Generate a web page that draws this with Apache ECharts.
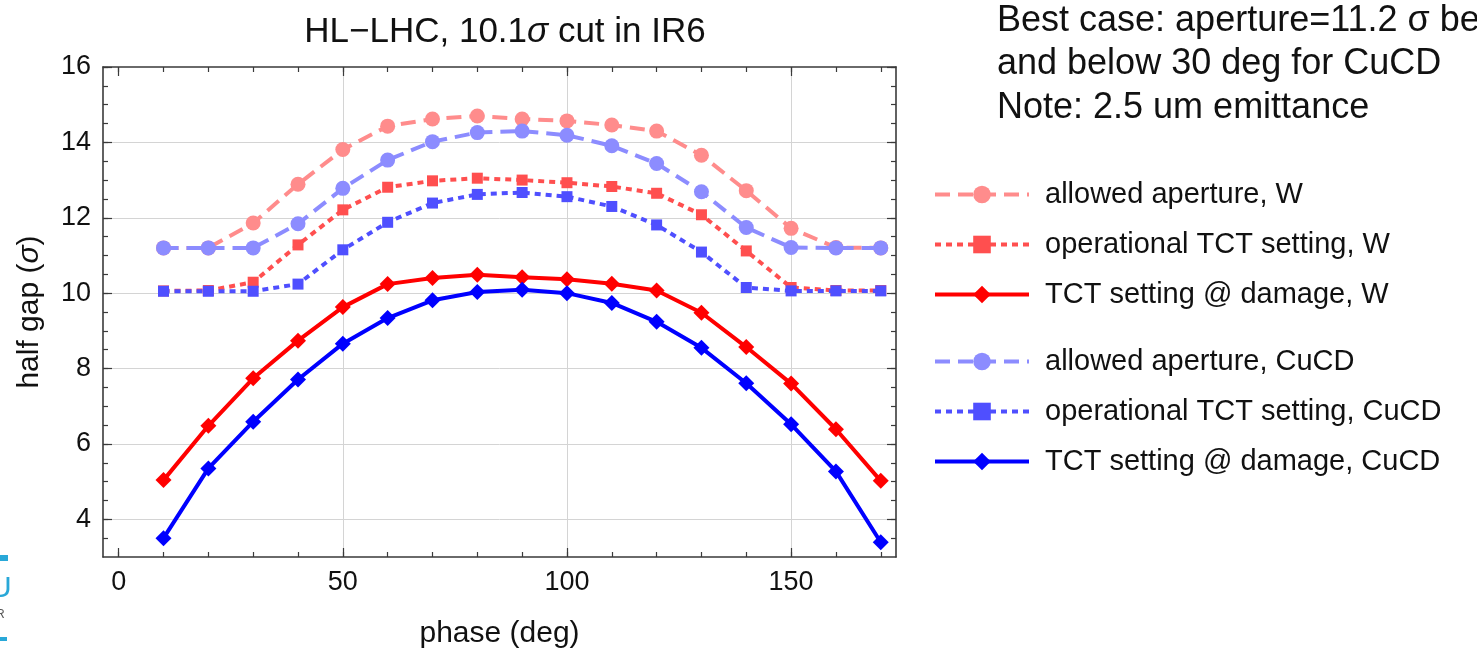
<!DOCTYPE html>
<html>
<head>
<meta charset="utf-8">
<script src="https://cdn.jsdelivr.net/npm/echarts@6/dist/echarts.min.js"></script>
<style>
html,body{margin:0;padding:0;background:#fff;}
#c{width:1477px;height:654px;}
</style>
</head>
<body>
<div id="c"></div>
<script>
// ---- data ----
var phase = [10,20,30,40,50,60,70,80,90,100,110,120,130,140,150,160,170];
var apertureW    = [11.2,11.2,11.86,12.89,13.81,14.43,14.62,14.70,14.62,14.57,14.46,14.30,13.66,12.72,11.72,11.21,11.2];
var operW        = [10.06,10.07,10.29,11.28,12.21,12.81,12.98,13.05,13.00,12.93,12.83,12.65,12.08,11.12,10.15,10.07,10.07];
var damageW      = [5.04,6.48,7.74,8.74,9.63,10.24,10.40,10.49,10.42,10.37,10.25,10.07,9.48,8.57,7.60,6.39,5.02];
var apertureCu   = [11.2,11.2,11.2,11.84,12.78,13.53,14.02,14.26,14.30,14.19,13.91,13.44,12.69,11.74,11.21,11.2,11.2];
var operCu       = [10.05,10.05,10.05,10.24,11.15,11.88,12.39,12.62,12.67,12.56,12.30,11.81,11.09,10.15,10.06,10.06,10.06];
var damageCu     = [3.50,5.35,6.59,7.71,8.66,9.34,9.81,10.03,10.09,10.00,9.74,9.24,8.55,7.61,6.52,5.27,3.39];

var seriesNames = ['allowed aperture, W','operational TCT setting, W','TCT setting @ damage, W',
                   'allowed aperture, CuCD','operational TCT setting, CuCD','TCT setting @ damage, CuCD'];

var xMajor = [0,50,100,150];
var xMinor = [0,10,20,30,40,50,60,70,80,90,100,110,120,130,140,150,160,170];
var xGrid  = [50,100,150];
var yMajor = [4,6,8,10,12,14,16];
var yMinor = [3.5,4,4.5,5,5.5,6,6.5,7,7.5,8,8.5,9,9.5,10,10.5,11,11.5,12,12.5,13,13.5,14,14.5,15,15.5,16];
var yGrid  = [4,6,8,10,12,14];

var titleText = 'HL\u2212LHC, 10.1{i|\u03c3} cut in IR6';
var xName = 'phase (deg)';
var yName = 'half gap ({i|\u03c3})';
var noteLines = ['Best case: aperture=11.2 \u03c3 be','and below 30 deg for CuCD','Note: 2.5 um emittance'];

// ---- chart ----
var FONT = 'Liberation Sans, Arial, Helvetica, sans-serif';
var X_MIN = -3.5, X_MAX = 173.4, Y_MIN = 3, Y_MAX = 16;
var frame = {color:'#3a3a3a', width:1.6};

function pairs(ys){ return phase.map(function(x,i){return [x, ys[i]];}); }

function merge(a, opts){
  for (var k in opts){
    var v = opts[k];
    if (v && typeof v === 'object' && !Array.isArray(v)) a[k] = Object.assign({}, a[k] || {}, v);
    else a[k] = v;
  }
  return a;
}
function ax(kind, pos, ticks, len, opts){
  var a = {
    type:'value', position:pos, gridIndex:0,
    min: kind === 'x' ? X_MIN : Y_MIN,
    max: kind === 'x' ? X_MAX : Y_MAX,
    axisLine:{show:false, onZero:false, lineStyle:frame},
    axisTick:{show:true, inside:true, length:len, customValues:ticks, lineStyle:{color:'#3a3a3a', width:1.2}},
    axisLabel:{show:false},
    splitLine:{show:false}
  };
  return merge(a, opts || {});
}

var labelStyle = {show:true, fontSize:27, color:'#111', margin:12, fontFamily:FONT};
var gridLine = {show:true, lineStyle:{color:'#d4d4d4', width:1}};

var xAxes = [
  ax('x','bottom', xMajor, 9, {
    axisLine:{show:true},
    axisLabel:Object.assign({customValues:xMajor}, labelStyle),
    name:xName, nameLocation:'middle', nameGap:62,
    nameTextStyle:{fontSize:30, color:'#111', fontFamily:FONT}
  }),
  ax('x','bottom', xMinor, 5),
  ax('x','top', xMajor, 9, {axisLine:{show:true}}),
  ax('x','top', xMinor, 5),
  ax('x','bottom', xGrid, 0, {axisTick:{show:false}, splitLine:gridLine})
];
var yAxes = [
  ax('y','left', yMajor, 9, {
    axisLine:{show:true},
    axisLabel:Object.assign({customValues:yMajor}, labelStyle),
    name:yName, nameLocation:'middle', nameGap:58, nameRotate:90,
    nameTextStyle:{fontSize:30, color:'#111', fontFamily:FONT,
                   rich:{i:{fontStyle:'italic', fontSize:30, color:'#111', fontFamily:FONT}}}
  }),
  ax('y','left', yMinor, 5),
  ax('y','right', yMajor, 9, {axisLine:{show:true}}),
  ax('y','right', yMinor, 5),
  ax('y','left', yGrid, 0, {axisTick:{show:false}, splitLine:gridLine})
];

var styles = [
  {color:'#ff8c8c', type:[15,8], symbol:'circle', size:15},
  {color:'#ff4f4f', type:[6,5],  symbol:'rect',   size:11},
  {color:'#ff0000', type:'solid', symbol:'diamond', size:16},
  {color:'#8c8cff', type:[15,8], symbol:'circle', size:15},
  {color:'#4f4fff', type:[6,5],  symbol:'rect',   size:11},
  {color:'#0000ff', type:'solid', symbol:'diamond', size:16}
];
var dataSets = [apertureW, operW, damageW, apertureCu, operCu, damageCu];

var series = dataSets.map(function(d, i){
  var s = styles[i];
  return {
    name:seriesNames[i], type:'line', xAxisIndex:0, yAxisIndex:0,
    data:pairs(d), symbol:s.symbol, symbolSize:s.size, showSymbol:true, showAllSymbol:true,
    lineStyle:{color:s.color, width:4, type:s.type, cap:'butt'},
    itemStyle:{color:s.color, borderWidth:0},
    emphasis:{disabled:true}, z:2+i
  };
});

function legendData(names){
  return names.map(function(n){
    var s = styles[seriesNames.indexOf(n)];
    return {name:n, lineStyle:{width:4, color:s.color, type:s.type}};
  });
}
var legendBase = {
  orient:'vertical', left:933, itemWidth:94, itemHeight:22, itemGap:21, padding:0,
  selectedMode:false,
  textStyle:{fontSize:29, color:'#111', fontFamily:FONT, padding:[0,0,0,11]}
};

var option = {
  animation:false,
  backgroundColor:'#ffffff',
  textStyle:{fontFamily:FONT},
  title:[
    {text:titleText, left:500, top:10, textAlign:'center',
     textStyle:{fontSize:35, fontWeight:'normal', color:'#111', fontFamily:FONT,
                rich:{i:{fontStyle:'italic', fontSize:35, color:'#111', fontFamily:FONT}}}},
    {text:noteLines.join('\n'), left:992, top:-6,
     textStyle:{fontSize:36, fontWeight:'normal', color:'#111', lineHeight:43.5, fontFamily:FONT}}
  ],
  grid:{left:103, top:67, right:581, bottom:96, containLabel:false},
  xAxis:xAxes,
  yAxis:yAxes,
  legend:[
    Object.assign({}, legendBase, {top:180, data:legendData(seriesNames.slice(0,3))}),
    Object.assign({}, legendBase, {top:347, data:legendData(seriesNames.slice(3,6))})
  ],
  graphic:[
    {type:'rect', shape:{x:0, y:555, width:8, height:6}, style:{fill:'#29a8d8'}},
    {type:'text', x:-10, y:574, style:{text:'U', fontSize:30, fill:'#29a8d8', fontFamily:FONT}},
    {type:'text', x:-4, y:609, style:{text:'R', fontSize:12, fill:'#555', fontFamily:FONT}},
    {type:'rect', shape:{x:0, y:637, width:7, height:4}, style:{fill:'#29a8d8'}}
  ],
  series:series
};

var chart = echarts.init(document.getElementById('c'), null, {renderer:'canvas'});
chart.setOption(option);
</script>
</body>
</html>
